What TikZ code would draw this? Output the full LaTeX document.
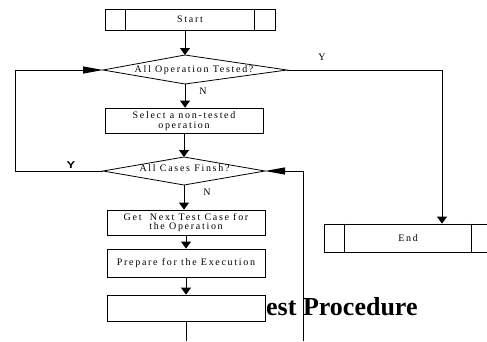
\documentclass[tikz,border=0pt]{standalone}
\usepackage{fontspec}
\setmainfont{Liberation Serif}
\newfontfamily\boxfont[LetterSpace=17]{Liberation Serif}
\newfontfamily\ysans{Liberation Sans}
\usetikzlibrary{arrows.meta}

\tikzset{
  box/.style={draw, fill=white, line width=0.8pt, inner sep=0pt},
  txt/.style={font=\boxfont\fontsize{10}{9.6}\selectfont, align=center, inner sep=0pt},
  flow/.style={line width=1pt, -{Triangle[length=7pt,width=10pt]}},
  back/.style={line width=1pt, -{Triangle[length=20pt,width=7pt]}},
}

\begin{document}
\begin{tikzpicture}[x=1pt,y=-1pt]
\useasboundingbox (0,0) rectangle (487,341);
\clip (0,0) rectangle (487,341);

% Title (under the last box)
\node[anchor=base west, inner sep=0pt, font=\bfseries\fontsize{26}{26}\selectfont] (title) at (266,315) {est Procedure};

% Start
\node[box, minimum width=170, minimum height=21] (start) at (190,19.5) {};
\draw[line width=0.8pt] ([xshift=21]start.north west) -- ([xshift=21]start.south west);
\draw[line width=0.8pt] ([xshift=-21]start.north east) -- ([xshift=-21]start.south east);
\node[txt] (starttxt) at (190,19.5) {Start};

% First decision
\coordinate (d1w) at (103,70);
\coordinate (d1n) at (185,55);
\coordinate (d1e) at (287,70);
\coordinate (d1s) at (185,84);
\draw[line width=0.8pt] (d1w) -- (d1n) -- (d1e) -- (d1s) -- cycle;
\node[txt] (d1) at (194,70) {All Operation Tested?};

% Select
\node[box, minimum width=158, minimum height=25] (select) at (184,120.5) {};
\node[txt] (selecttxt) at (184,121) {Select a non-tested\\operation};

% Second decision
\coordinate (d2w) at (103,171);
\coordinate (d2n) at (184,157);
\coordinate (d2e) at (265,171);
\coordinate (d2s) at (184,185);
\draw[line width=0.8pt] (d2w) -- (d2n) -- (d2e) -- (d2s) -- cycle;
\node[txt] (d2) at (184.5,168) {All Cases Finsh?};

% Case boxes
\node[box, minimum width=158, minimum height=25] (get) at (186,222.5) {};
\node[txt] (gettxt) at (186,222.5) {Get~ Next Test Case for\\the Operation};
\node[box, minimum width=158, minimum height=28] (prep) at (186,263) {};
\node[txt] (preptxt) at (186,263) {Prepare for the Execution};
\node[box, minimum width=158, minimum height=26] (empty) at (186,308) {};

% End
\node[box, minimum width=168, minimum height=28] (end) at (408,238) {};
\draw[line width=0.8pt] ([xshift=21]end.north west) -- ([xshift=21]end.south west);
\draw[line width=0.8pt] ([xshift=-21]end.north east) -- ([xshift=-21]end.south east);
\node[txt] (endtxt) at (408,238) {End};

% Main flow
\draw[flow] (start.south -| d1n) -- (d1n);
\draw[flow] (d1s) -- (d1s |- select.north);
\draw[flow] (select.south -| d2n) -- (d2n);
\draw[flow] (d2s) -- (d2s |- get.north);
\draw[flow] (get) -- (prep);
\draw[flow] (prep) -- (empty);
\coordinate (bot) at (186,341);
\draw[line width=1pt] (empty.south) -- (bot);

% Loops
\draw[back] (d2w) -- ++(-88,0) |- (d1w);
\coordinate (rbot) at (303,341);
\draw[back] (rbot) |- (d2e);
\coordinate (yturn) at (442,70);
\draw[flow] (d1e) -- (yturn) -- (yturn |- end.north);

% Labels
\node[txt] (n1) at (203,91) {N};
\node[txt] (n2) at (207,192) {N};
\node[txt] (yr) at (322,57) {Y};
\node[inner sep=0pt, font=\ysans\bfseries\fontsize{10}{10}\selectfont, xscale=1.3] (yl) at (71,165) {Y};

\end{tikzpicture}
\end{document}
